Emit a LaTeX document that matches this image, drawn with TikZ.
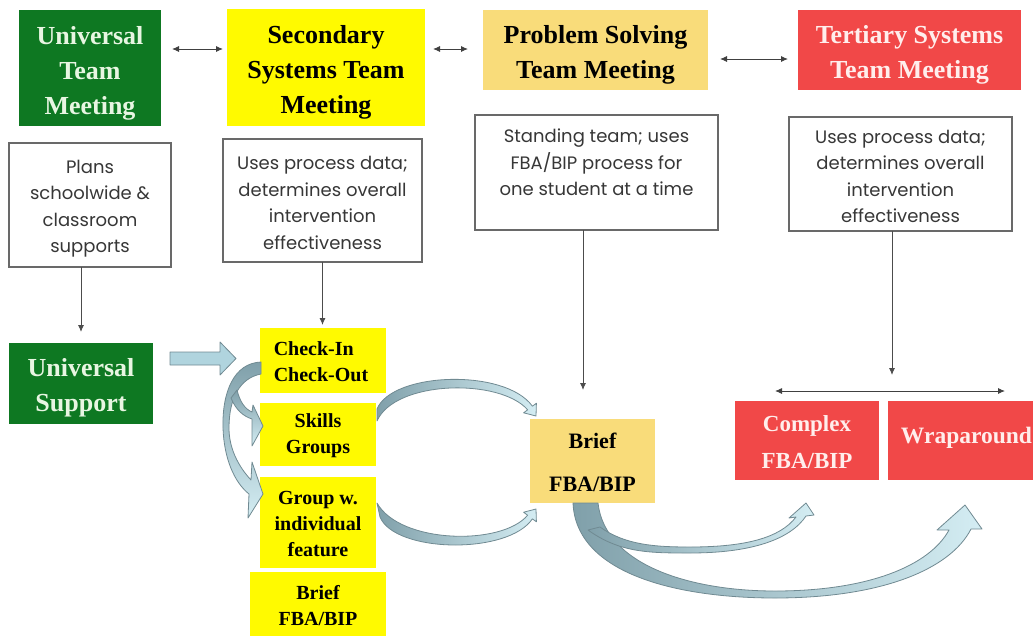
\documentclass[tikz,border=0pt]{standalone}
\usepackage{fontspec}
\setmainfont{Liberation Serif}
\newfontfamily\descfont{Poppins}
\usetikzlibrary{arrows.meta,calc}

\definecolor{teamgreen}{RGB}{14,120,34}
\definecolor{greentext}{RGB}{232,246,226}
\definecolor{teamyellow}{RGB}{255,250,0}
\definecolor{teamgold}{RGB}{249,220,122}
\definecolor{teamred}{RGB}{241,72,72}
\definecolor{redtext}{RGB}{255,238,236}
\definecolor{descline}{RGB}{105,105,105}
\definecolor{desctext}{RGB}{55,55,55}
\definecolor{arrowdark}{RGB}{128,160,170}
\definecolor{arrowlight}{RGB}{212,237,243}
\definecolor{arrowedge}{RGB}{112,138,146}
\definecolor{blockfill}{RGB}{176,212,222}

\begin{document}
\begin{tikzpicture}[x=1pt,y=-1pt,
  box/.style={inner sep=0pt, outer sep=0pt, align=center},
  headtxt/.style={box, font=\fontsize{26}{35}\selectfont\bfseries},
  greenbox/.style={box, fill=teamgreen},
  yellowbox/.style={box, fill=teamyellow},
  goldbox/.style={box, fill=teamgold},
  redbox/.style={box, fill=teamred},
  greentxt/.style={headtxt, text=greentext},
  darktxt/.style={headtxt, text=black},
  redtxt/.style={headtxt, text=redtext},
  smalltxt/.style={box, text=black, font=\fontsize{20}{26}\selectfont\bfseries},
  descbox/.style={box, draw=descline, line width=1.3pt, fill=white},
  desctxt/.style={box, text=desctext, font=\descfont\fontsize{18}{26.5}\selectfont},
  conn/.style={draw=black!70, line width=0.9pt, -{Latex[length=7pt,width=6pt]}},
  dbl/.style={draw=black!75, line width=0.9pt,
    {Latex[length=7pt,width=6pt]}-{Latex[length=7pt,width=6pt]}},
  curved/.style={draw=arrowedge, line width=0.8pt, line join=round},
  blockarrow/.style={fill=blockfill, draw=arrowedge, line width=0.8pt, line join=round}
]
\useasboundingbox (0,0) rectangle (1033,635);
\clip (0,0) rectangle (1033,635);

% team meetings
\node[greenbox, minimum width=142pt, minimum height=116pt] (utm) at (90,68) {};
\node[greentxt] (utmt) at ([yshift=-5pt]utm.center) {Universal\\Team\\Meeting};
\node[yellowbox, minimum width=198pt, minimum height=117pt] (sstm) at (326,67.5) {};
\node[darktxt] (sstmt) at ([yshift=-5pt]sstm.center) {Secondary\\Systems Team\\Meeting};
\node[goldbox, minimum width=225pt, minimum height=80pt] (pstm) at (595.5,50) {};
\node[darktxt] (pstmt) at ([yshift=-5pt]pstm.center) {Problem Solving\\Team Meeting};
\node[redbox, minimum width=223pt, minimum height=80pt] (tstm) at (909.5,50) {};
\node[redtxt] (tstmt) at ([yshift=-5pt]tstm.center) {Tertiary Systems\\Team Meeting};

% descriptions
\node[descbox, minimum width=162pt, minimum height=124pt] (plans) at (90,205) {};
\node[desctxt] (planst) at (90,208.5) {Plans\\schoolwide \&\\classroom\\supports};
\node[descbox, minimum width=199pt, minimum height=123pt] (sdesc) at (322.5,200.5) {};
\node[desctxt] (sdesct) at (322.5,203) {Uses process data;\\determines overall\\intervention\\effectiveness};
\node[descbox, minimum width=243pt, minimum height=115pt] (psdesc) at (596.5,172.5) {};
\node[desctxt] (psdesct) at (596.5,162.5) {Standing team; uses\\FBA/BIP process for\\one student at a time};
\node[descbox, minimum width=223pt, minimum height=114pt] (tdesc) at (900.5,174) {};
\node[desctxt] (tdesct) at (900.5,176.5) {Uses process data;\\determines overall\\intervention\\effectiveness};

% supports
\node[greenbox, minimum width=144pt, minimum height=81pt] (usup) at (81,383.5) {};
\node[greentxt] (usupt) at ([yshift=-4pt]usup.center) {Universal\\Support};
\node[yellowbox, minimum width=126pt, minimum height=65pt] (cico) at (323,360.5) {};
\node[smalltxt, align=left] (cicot) at (321,362) {Check-In\\Check-Out};
\node[yellowbox, minimum width=116pt, minimum height=63pt] (skills) at (318,434.5) {};
\node[smalltxt] (skillst) at ([yshift=-1pt]skills.center) {Skills\\Groups};
\node[yellowbox, minimum width=116pt, minimum height=91pt] (grpw) at (318,522.5) {};
\node[smalltxt] (grpwt) at ([yshift=-1pt]grpw.center) {Group w.\\individual\\feature};
\node[yellowbox, minimum width=136pt, minimum height=67pt] (bfbay) at (318,605.5) {};
\node[smalltxt] (bfbayt) at (bfbay.center) {Brief\\FBA/BIP};
\node[goldbox, minimum width=125pt, minimum height=84pt] (bfba) at (592.5,461) {};
\node[darktxt, font=\fontsize{22}{43}\selectfont\bfseries] (bfbat) at ([yshift=-1pt]bfba.center) {Brief\\FBA/BIP};
\node[redbox, minimum width=144pt, minimum height=79pt] (cfba) at (807,440.5) {};
\node[redtxt, font=\fontsize{23}{37}\selectfont\bfseries] (cfbat) at ([yshift=-2pt]cfba.center) {Complex\\FBA/BIP};
\node[redbox, minimum width=157pt, minimum height=79pt] (wrap) at (966.5,440.5) {};
\node[redtxt, font=\fontsize{23.5}{30}\selectfont\bfseries] (wrapt) at (966.5,438) {Wraparound};

% links between meetings
\draw[dbl, shorten <=11pt, shorten >=4pt] (utm.east |- 0,49) -- (sstm.west |- 0,49);
\draw[dbl, shorten <=8pt, shorten >=15pt] (sstm.east |- 0,49) -- (pstm.west |- 0,49);
\draw[dbl, shorten <=12pt, shorten >=10pt] (pstm.east |- 0,59) -- (tstm.west |- 0,59);

% from descriptions down to supports
\draw[conn, shorten >=11pt] (usup.north |- plans.south) -- (usup.north);
\draw[conn, shorten >=3pt] (sdesc.south) -- (sdesc.south |- cico.north);
\draw[conn, shorten >=29pt] (psdesc.south -| 583,0) -- (bfba.north -| 583,0);
\draw[conn, shorten >=26pt] (tdesc.south -| 892,0) -- (cfba.north -| 892,0);
\coordinate (wl) at (775,391);
\coordinate (wr) at (1005,391);
\draw[dbl] (wl) -- (wr);

% universal support feeds check-in/check-out
\filldraw[blockarrow] (170,352) -- (220,352) -- (220,342) -- (236,358.5) -- (220,375) -- (220,365) -- (170,365) -- cycle;

% check-in/check-out leads on to the other groups
\shadedraw[curved, top color=arrowdark, bottom color=arrowlight]
  (261,362) .. controls (234,363) and (222,392) .. (223,428)
  .. controls (224,458) and (234,482) .. (249,494)
  -- (248,518) -- (263,494) -- (252,462) -- (251,480)
  .. controls (238,466) and (229,448) .. (229,428)
  .. controls (229,398) and (240,378) .. (261,374) -- cycle;
\shadedraw[curved, top color=arrowdark, bottom color=arrowlight]
  (231,398) .. controls (236,410) and (243,416) .. (252,419)
  -- (252,446) -- (263,426) -- (253,405) -- (252,412)
  .. controls (245,409) and (240,402) .. (237,390) -- cycle;

% groups lead on to brief FBA/BIP
\shadedraw[curved, left color=arrowdark, right color=arrowlight]
  (377,409) .. controls (392,372) and (505,368) .. (532.4,406.2)
  -- (536.4,403.2) -- (536,416) -- (523.6,412.8) -- (527.6,409.8)
  .. controls (500,378) and (395,380) .. (377,421) -- cycle;
\shadedraw[curved, left color=arrowdark, right color=arrowlight]
  (380,517) .. controls (395,553) and (508,555) .. (532.4,518.8)
  -- (536.4,521.8) -- (536,509) -- (523.6,512.2) -- (527.6,515.2)
  .. controls (502,546) and (400,544) .. (377,503) -- cycle;

% brief FBA/BIP leads on to tertiary supports
\shadedraw[curved, left color=arrowdark, right color=arrowlight]
  (573,503) .. controls (576,575) and (680,598) .. (775,598)
  .. controls (880,598) and (950,570) .. (971,529)
  -- (982,529) -- (965,505) -- (937,530) -- (949,530)
  .. controls (930,565) and (870,591) .. (775,591)
  .. controls (690,591) and (605,565) .. (598,503) -- cycle;
\shadedraw[curved, left color=arrowdark, right color=arrowlight]
  (588,530) .. controls (620,553) and (650,553) .. (690,553)
  .. controls (750,553) and (790,540) .. (806,516)
  -- (814,515) -- (806,503) -- (789,518) -- (796,517)
  .. controls (780,538) and (745,547) .. (690,547)
  .. controls (655,547) and (625,545) .. (600,527) -- cycle;
\end{tikzpicture}
\end{document}
